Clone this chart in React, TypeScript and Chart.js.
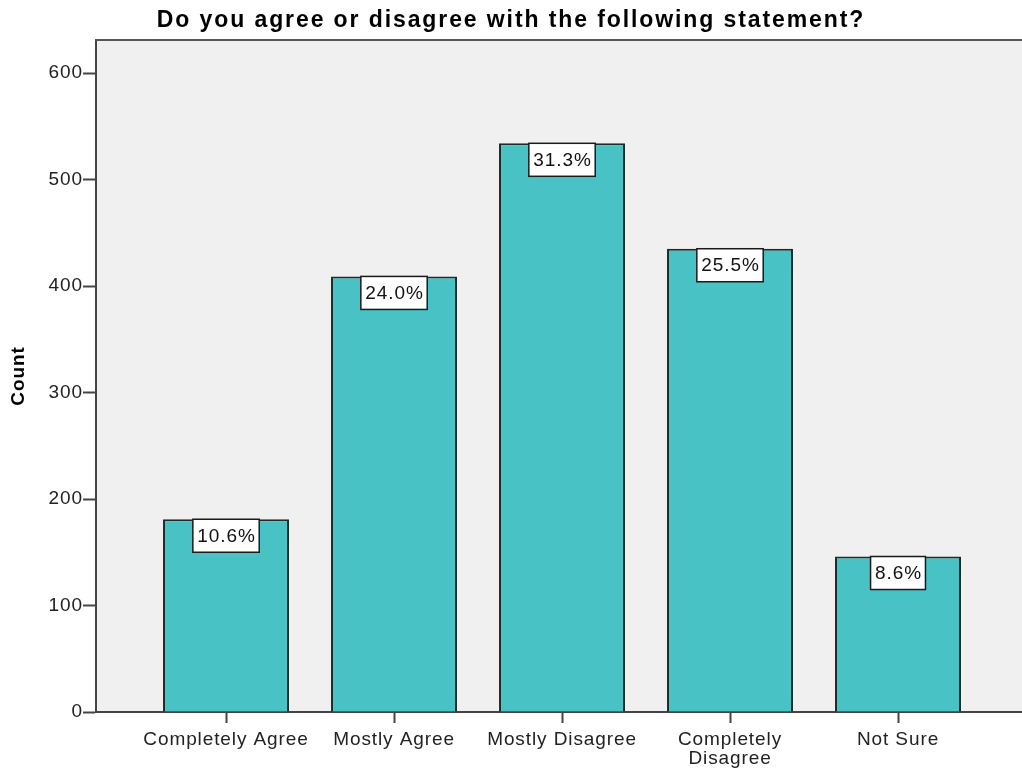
import React, { useEffect, useRef } from "react";
import { Chart, registerables } from "chart.js";

Chart.register(...registerables);

const categories: (string | string[])[] = [
  "Completely Agree",
  "Mostly Agree",
  "Mostly Disagree",
  ["Completely", "Disagree"],
  "Not Sure",
];
const counts = [181, 409, 534, 435, 146];
const percentLabels = ["10.6%", "24.0%", "31.3%", "25.5%", "8.6%"];
const yTicks = [0, 100, 200, 300, 400, 500, 600];

const FONT = "'Liberation Sans', Arial, sans-serif";

const decorPlugin = {
  id: "decor",
  beforeDraw(chart: any) {
    const { ctx, chartArea } = chart;
    ctx.save();
    ctx.fillStyle = "#f0f0f0";
    ctx.fillRect(chartArea.left, chartArea.top, chartArea.right - chartArea.left, chartArea.bottom - chartArea.top);
    ctx.restore();
    ctx.letterSpacing = "0.9px";
  },
  afterDraw(chart: any) {
    const { ctx, chartArea } = chart;
    ctx.save();
    ctx.letterSpacing = "0px";
    ctx.strokeStyle = "#555";
    ctx.lineWidth = 2;
    ctx.beginPath();
    ctx.moveTo(chartArea.left - 1, chartArea.top);
    ctx.lineTo(chartArea.right, chartArea.top);
    ctx.stroke();
    ctx.fillStyle = "#000";
    ctx.font = `bold 23px ${FONT}`;
    ctx.letterSpacing = "1.9px";
    ctx.textAlign = "center";
    ctx.textBaseline = "middle";
    ctx.fillText("Do you agree or disagree with the following statement?", 511, 21);
    const meta = chart.getDatasetMeta(0);
    ctx.font = `19px ${FONT}`;
    ctx.letterSpacing = "0.9px";
    meta.data.forEach((bar: any, i: number) => {
      const label = percentLabels[i];
      const w = ctx.measureText(label).width + 8;
      const h = 33;
      const x = bar.x - w / 2;
      const y = bar.y;
      ctx.fillStyle = "#fff";
      ctx.fillRect(x, y, w, h);
      ctx.strokeStyle = "#1a1a1a";
      ctx.lineWidth = 1.5;
      ctx.strokeRect(x, y, w, h);
      ctx.fillStyle = "#111";
      ctx.textAlign = "center";
      ctx.textBaseline = "middle";
      ctx.fillText(label, bar.x + 0.5, y + h / 2 + 1);
    });
    ctx.restore();
    ctx.letterSpacing = "0px";
  },
};

export default function App() {
  const ref = useRef<HTMLCanvasElement>(null);
  useEffect(() => {
    document.body.style.margin = "0";
    const chart = new Chart(ref.current!, {
      type: "bar",
      data: {
        datasets: [
          {
            data: counts.map((v, i) => ({ x: i, y: v })),
            backgroundColor: "#48c2c5",
            borderColor: "#1d2b2b",
            borderWidth: 2,
            categoryPercentage: 1,
            barPercentage: 0.75,
          },
        ],
      },
      options: {
        animation: false,
        responsive: false,
        layout: { padding: { top: 40, left: 0, right: 0, bottom: 0 } },
        plugins: { legend: { display: false }, tooltip: { enabled: false } },
        scales: {
          x: {
            type: "linear",
            offset: false,
            min: -0.774,
            max: 4.738,
            afterBuildTicks: (scale: any) => {
              scale.ticks = categories.map((_, i) => ({ value: i }));
            },
            afterFit: (scale: any) => {
              scale.height = 60;
            },
            ticks: {
              autoSkip: false,
              maxRotation: 0,
              padding: 7,
              color: "#222",
              font: { family: FONT, size: 19, lineHeight: 1.0 },
              callback: (v: any) => categories[v as number],
            },
            grid: {
              offset: false,
              drawOnChartArea: false,
              drawTicks: true,
              tickLength: 11,
              tickWidth: 2,
              color: "#444",
            },
            border: { display: true, color: "#444", width: 2 },
          },
          y: {
            min: 0,
            max: 631,
            afterBuildTicks: (scale: any) => {
              scale.ticks = yTicks.map((v) => ({ value: v }));
            },
            afterFit: (scale: any) => {
              scale.width = 96;
            },
            ticks: {
              padding: 0,
              color: "#222",
              font: { family: FONT, size: 19 },
            },
            grid: {
              drawOnChartArea: false,
              drawTicks: true,
              tickLength: 13,
              tickWidth: 2,
              color: "#444",
            },
            border: { display: true, color: "#444", width: 2 },
            title: {
              display: true,
              text: "Count",
              color: "#000",
              font: { family: FONT, size: 19, weight: "bold" },
              padding: { top: 7, bottom: 0 },
            },
          },
        },
      },
      plugins: [decorPlugin],
    } as any);
    return () => chart.destroy();
  }, []);
  return <canvas ref={ref} width={1022} height={772} style={{ display: "block" }} />;
}
